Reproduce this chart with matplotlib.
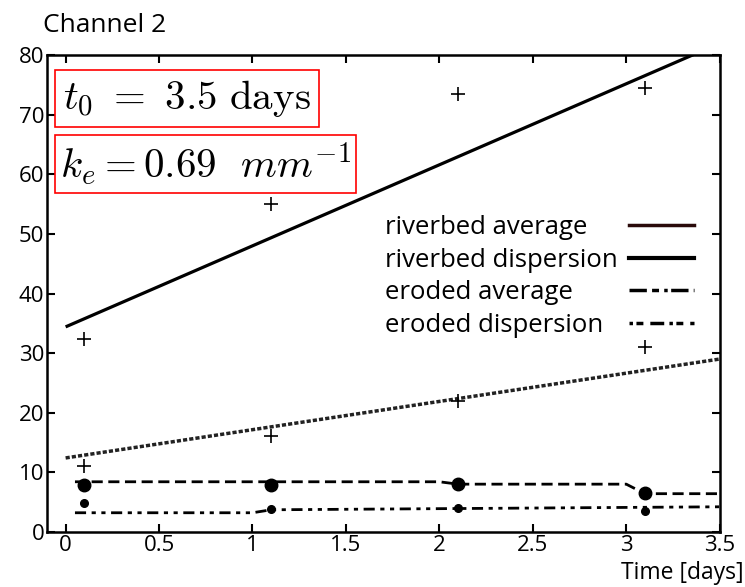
import matplotlib as mpl
mpl.use("Agg")
from matplotlib import pyplot as plt
from matplotlib.lines import Line2D

# sample times [days]
t_samples = [0.1, 1.1, 2.1, 3.1]

# measured riverbed points (+)
riverbed_disp_pts = [32.3, 55.0, 73.5, 74.5]
riverbed_avg_pts = [11.0, 16.0, 22.0, 31.0]

# fitted riverbed lines (end points)
fit_t = [0.0, 3.5]
riverbed_disp_fit = [34.4, 82.0]
riverbed_avg_fit = [12.4, 29.0]

# eroded points (dots)
eroded_avg_pts = [7.8, 7.8, 8.0, 6.5]
eroded_disp_pts = [4.8, 3.8, 4.0, 3.5]

# eroded curves
eroded_avg_t = [0.05, 2.0, 2.1, 3.0, 3.1, 3.5]
eroded_avg_curve = [8.4, 8.4, 8.0, 8.0, 6.4, 6.4]
eroded_disp_t = [0.05, 1.0, 1.1, 3.5]
eroded_disp_curve = [3.2, 3.2, 3.7, 4.2]

legend_labels = ["riverbed average", "riverbed dispersion",
                 "eroded average", "eroded dispersion"]

plt.rcParams["font.family"] = ["Open Sans", "DejaVu Sans"]
plt.rcParams["mathtext.fontset"] = "cm"

fig = plt.figure(figsize=(7.45, 5.87), dpi=100)
ax = fig.add_axes([0.063, 0.094, 0.903, 0.812])

ax.plot(fit_t, riverbed_disp_fit, color="black", lw=2.3, solid_capstyle="butt")
ax.plot(fit_t, riverbed_avg_fit, color="#222222", lw=2.5, dashes=(1.2, 0.6))
ax.plot(t_samples, riverbed_disp_pts, "+", color="black", ms=10, mew=1.2)
ax.plot(t_samples, riverbed_avg_pts, "+", color="black", ms=10, mew=1.2)

ax.plot(eroded_avg_t, eroded_avg_curve, color="black", lw=2, dashes=(4, 2))
ax.plot(eroded_disp_t, eroded_disp_curve, color="black", lw=2,
        dashes=(4, 2, 1.5, 2, 1.5, 2))
ax.plot(t_samples, eroded_avg_pts, "o", color="black", ms=9)
ax.plot(t_samples, eroded_disp_pts, "o", color="black", ms=5.5)

ax.set_xlim(-0.1, 3.5)
ax.set_ylim(0, 80)
ax.set_xticks([0, 0.5, 1, 1.5, 2, 2.5, 3, 3.5])
ax.set_xticklabels(["0", "0.5", "1", "1.5", "2", "2.5", "3", "3.5"])
ax.set_yticks(range(0, 81, 10))
ax.tick_params(direction="in", top=True, right=True, length=6, width=1.5,
               labelsize=16, pad=2)
for s in ax.spines.values():
    s.set_linewidth(1.8)

box = dict(boxstyle="square,pad=0.2", facecolor="white", edgecolor="red", lw=1.2)
ax.text(0.024, 0.909, r"$t_0\ =\ 3.5\ \mathrm{days}$", transform=ax.transAxes,
        fontsize=29.5, va="center", ha="left", bbox=box)
box2 = dict(boxstyle="square,pad=0.12", facecolor="white", edgecolor="red", lw=1.2)
ax.text(0.02, 0.772, r"$k_e = 0.69\ \ mm^{-1}$", transform=ax.transAxes,
        fontsize=29.5, va="center", ha="left", bbox=box2)

# legend: labels on the left (left aligned), line samples on the right
blank = [Line2D([], [], alpha=0) for _ in legend_labels]
leg_text = ax.legend(blank, legend_labels, loc="upper left",
                     bbox_to_anchor=(0.502, 0.665), frameon=False, fontsize=18.5,
                     handlelength=0, handletextpad=0, labelspacing=0.3,
                     borderpad=0, borderaxespad=0)
ax.add_artist(leg_text)

handles = [
    Line2D([], [], color="#2a0a0a", lw=2.5),
    Line2D([], [], color="black", lw=3),
    Line2D([], [], color="black", lw=2.5, dashes=(5, 1.5, 2, 1.5, 1, 1)),
    Line2D([], [], color="black", lw=2.5, dashes=(1, 1, 2, 2, 4, 1.5)),
]
ax.legend(handles, [" "] * 4, loc="upper right", bbox_to_anchor=(0.972, 0.665),
          frameon=False, fontsize=18.5, handlelength=2.55, handletextpad=0,
          labelspacing=0.3, borderpad=0, borderaxespad=0)

fig.text(0.058, 0.957, "Channel 2", fontsize=19, ha="left", va="center")
fig.text(0.998, 0.024, "Time [days]", fontsize=16.5, ha="right", va="center")

plt.savefig("out.png", dpi=100)
